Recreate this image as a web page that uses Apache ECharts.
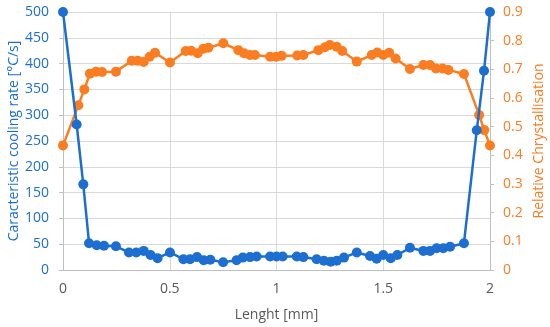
<!DOCTYPE html>
<html><head><meta charset="utf-8">
<script src="https://cdn.jsdelivr.net/npm/echarts@6/dist/echarts.min.js"></script>
<style>html,body{margin:0;padding:0;background:#fff}#c{width:550px;height:327px}</style>
</head><body><div id="c"></div>
<script>
const coolX = [0,0.064,0.095,0.122,0.158,0.192,0.248,0.309,0.343,0.378,0.41,0.443,0.501,0.564,0.595,0.628,0.659,0.69,0.75,0.813,0.842,0.876,0.907,0.97,1.0,1.029,1.095,1.126,1.188,1.222,1.254,1.282,1.316,1.376,1.438,1.469,1.5,1.535,1.566,1.625,1.688,1.719,1.75,1.781,1.813,1.878,1.938,1.972,2.0];
const coolY = [500,282,166,52,48,47,46,34,34,37,29,23,34,21,21,25,19,20,15,19,24,25,26,26,26,26,26,25,21,18,16,18,24,34,27,22,29,23,29,43,37,37,42,42,45,52,271,386,500];
const crystX = [0,0.072,0.1,0.126,0.155,0.183,0.248,0.322,0.35,0.378,0.406,0.431,0.501,0.575,0.6,0.631,0.657,0.681,0.751,0.821,0.848,0.876,0.899,0.97,0.998,1.024,1.097,1.126,1.196,1.227,1.25,1.282,1.308,1.376,1.446,1.472,1.5,1.528,1.558,1.625,1.688,1.719,1.747,1.778,1.805,1.878,1.949,1.973,2.0];
const crystY = [0.434,0.575,0.63,0.685,0.692,0.691,0.692,0.73,0.73,0.726,0.744,0.758,0.724,0.764,0.765,0.756,0.772,0.775,0.791,0.767,0.756,0.75,0.75,0.744,0.744,0.747,0.748,0.75,0.767,0.777,0.785,0.779,0.764,0.727,0.75,0.759,0.75,0.758,0.738,0.701,0.715,0.715,0.703,0.703,0.698,0.684,0.541,0.488,0.434];
const xTicks = [0,0.5,1,1.5,2];

const BLUE = '#1c6fd0', ORANGE = '#fb7d21';
const FONT = '"Open Sans", "Liberation Sans", sans-serif';
const chart = echarts.init(document.getElementById('c'), null, {renderer:'canvas'});
chart.setOption({
  animation:false,
  grid:{left:63,right:60,top:12,bottom:57,containLabel:false,outerBoundsMode:'none'},
  xAxis:{type:'value',min:0,max:2,interval:0.5,
    name:'Lenght [mm]',nameLocation:'middle',nameGap:38,nameMoveOverlap:false,
    nameTextStyle:{color:'#595959',fontSize:14,fontFamily:FONT},
    axisLine:{show:true,onZero:false,lineStyle:{color:'#bfbfbf',width:1}},
    axisTick:{show:false},
    axisLabel:{color:'#595959',fontSize:14,fontFamily:FONT,margin:12,formatter:v=>xTicks.includes(v)?String(v):''},
    splitLine:{show:true,lineStyle:{color:'#d9d9d9',width:1}}},
  yAxis:[
    {type:'value',min:0,max:500,interval:50,position:'left',
     name:'Caracteristic cooling rate [°C/s]',nameLocation:'middle',nameGap:42,nameMoveOverlap:false,
     nameTextStyle:{color:BLUE,fontSize:14,fontFamily:FONT},
     axisLine:{show:true,lineStyle:{color:'#bfbfbf'}},
     axisTick:{show:true,length:4,lineStyle:{color:'#bfbfbf'}},
     axisLabel:{color:BLUE,fontSize:14,fontFamily:FONT,margin:14},
     splitLine:{show:true,lineStyle:{color:'#d9d9d9',width:1}}},
    {type:'value',min:0,max:0.9,interval:0.1,position:'right',
     name:'Relative Chrystallisation',nameLocation:'middle',nameGap:42,nameRotate:90,nameMoveOverlap:false,
     nameTextStyle:{color:ORANGE,fontSize:14,fontFamily:FONT},
     axisLine:{show:true,lineStyle:{color:'#bfbfbf'}},
     axisTick:{show:true,length:4,lineStyle:{color:'#bfbfbf'}},
     axisLabel:{color:ORANGE,fontSize:14,fontFamily:FONT,margin:13,formatter:v=>String(+v.toFixed(1))},
     splitLine:{show:false}}
  ],
  series:[
    {type:'line',yAxisIndex:0,data:coolX.map((x,i)=>[x,coolY[i]]),
     symbol:'circle',symbolSize:10,itemStyle:{color:BLUE},lineStyle:{color:BLUE,width:2.5},z:3},
    {type:'line',yAxisIndex:1,data:crystX.map((x,i)=>[x,crystY[i]]),
     symbol:'circle',symbolSize:10,itemStyle:{color:ORANGE},lineStyle:{color:ORANGE,width:2.5},z:2}
  ]
});
</script></body></html>
